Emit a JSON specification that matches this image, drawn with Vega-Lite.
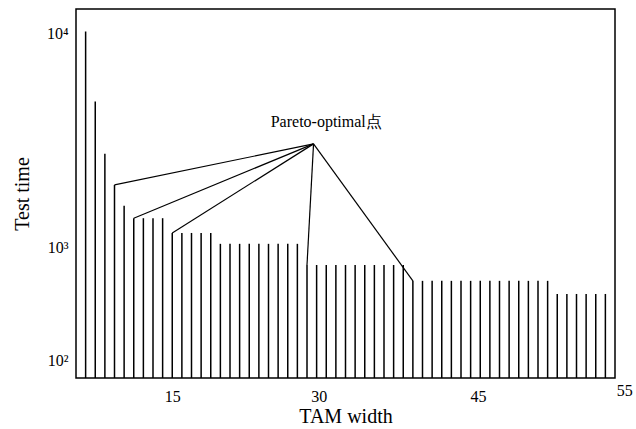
{
  "$schema": "https://vega.github.io/schema/vega-lite/v6.json",
  "autosize": "none",
  "width": 539,
  "height": 369,
  "padding": {"left": 76, "top": 9, "right": 21, "bottom": 51},
  "background": "white",
  "config": {
    "view": {"stroke": "black", "strokeWidth": 1.5},
    "font": "Liberation Serif"
  },
  "datasets": {
    "bars": [
      {"w": 6, "t": 10350}, {"w": 7, "t": 3855}, {"w": 8, "t": 1845}, {"w": 9, "t": 1191}, {"w": 10, "t": 889},
      {"w": 11, "t": 745}, {"w": 12, "t": 745}, {"w": 13, "t": 745}, {"w": 14, "t": 745},
      {"w": 15, "t": 605}, {"w": 16, "t": 605}, {"w": 17, "t": 605}, {"w": 18, "t": 605}, {"w": 19, "t": 605},
      {"w": 20, "t": 519}, {"w": 21, "t": 519}, {"w": 22, "t": 519}, {"w": 23, "t": 519}, {"w": 24, "t": 519},
      {"w": 25, "t": 519}, {"w": 26, "t": 519}, {"w": 27, "t": 519}, {"w": 28, "t": 519},
      {"w": 29, "t": 385}, {"w": 30, "t": 385}, {"w": 31, "t": 385}, {"w": 32, "t": 385}, {"w": 33, "t": 385},
      {"w": 34, "t": 385}, {"w": 35, "t": 385}, {"w": 36, "t": 385}, {"w": 37, "t": 385}, {"w": 38, "t": 385}, {"w": 39, "t": 385},
      {"w": 40, "t": 308}, {"w": 41, "t": 308}, {"w": 42, "t": 308}, {"w": 43, "t": 308}, {"w": 44, "t": 308},
      {"w": 45, "t": 308}, {"w": 46, "t": 308}, {"w": 47, "t": 308}, {"w": 48, "t": 308}, {"w": 49, "t": 308},
      {"w": 50, "t": 308}, {"w": 51, "t": 308}, {"w": 52, "t": 308}, {"w": 53, "t": 308}, {"w": 54, "t": 308},
      {"w": 55, "t": 256}, {"w": 56, "t": 256}, {"w": 57, "t": 256}, {"w": 58, "t": 256}, {"w": 59, "t": 256}, {"w": 60, "t": 256}
    ],
    "pareto": [
      {"seg": "a", "w": 29.68, "t": 2124}, {"seg": "a", "w": 9, "t": 1191},
      {"seg": "b", "w": 29.68, "t": 2124}, {"seg": "b", "w": 11, "t": 745},
      {"seg": "c", "w": 29.68, "t": 2124}, {"seg": "c", "w": 15, "t": 605},
      {"seg": "d", "w": 29.68, "t": 2124}, {"seg": "d", "w": 29, "t": 385},
      {"seg": "e", "w": 29.68, "t": 2124}, {"seg": "e", "w": 40, "t": 308}
    ],
    "note": [
      {"w": 31, "t": 2680, "label": "Pareto-optimal点"}
    ]
  },
  "encoding": {
    "x": {
      "field": "w",
      "type": "quantitative",
      "title": "TAM width",
      "scale": {"domain": [5, 61], "nice": false, "zero": false},
      "axis": {
        "values": [15, 30, 45, 55],
        "domain": false,
        "ticks": false,
        "grid": false,
        "labelFont": "Liberation Serif",
        "labelFontSize": 16,
        "labelColor": "black",
        "labelPadding": {"condition": {"test": "datum.value == 55", "value": 4}, "value": 10},
        "labelOffset": {"condition": [{"test": "datum.value == 45", "value": 17}, {"test": "datum.value == 55", "value": 67}, {"test": "datum.value == 30", "value": 2}], "value": 0},
        "labelOverlap": false,
        "labelFlush": false,
        "titleFont": "Liberation Serif",
        "titleFontSize": 20,
        "titleFontWeight": "normal",
        "titleColor": "black",
        "titlePadding": 2
      }
    },
    "y": {
      "field": "t",
      "type": "quantitative",
      "title": "Test time",
      "scale": {"type": "log", "domain": [78.3, 14220], "nice": false},
      "axis": {
        "values": [100, 1000, 10000],
        "labelExpr": "datum.value == 100 ? '10²' : datum.value == 1000 ? '10³' : '10⁴'",
        "domain": false,
        "ticks": false,
        "grid": false,
        "labelFont": "Liberation Serif",
        "labelFontSize": 16,
        "labelColor": "black",
        "labelPadding": 8,
        "labelOffset": {"condition": {"test": "datum.value == 1000", "value": 50}, "value": 0},
        "labelOverlap": false,
        "labelFlush": false,
        "titleFont": "Liberation Serif",
        "titleFontSize": 20,
        "titleFontWeight": "normal",
        "titleColor": "black",
        "titlePadding": 14
      }
    }
  },
  "layer": [
    {
      "data": {"name": "bars"},
      "mark": {"type": "rule", "color": "black", "strokeWidth": 1.5},
      "encoding": {
        "y2": {"datum": 78.3}
      }
    },
    {
      "data": {"name": "pareto"},
      "mark": {"type": "line", "color": "black", "strokeWidth": 1.2},
      "encoding": {
        "detail": {"field": "seg", "type": "nominal"}
      }
    },
    {
      "data": {"name": "note"},
      "mark": {"type": "text", "font": "Liberation Serif", "fontSize": 16, "color": "black", "align": "center", "baseline": "alphabetic"},
      "encoding": {
        "text": {"field": "label", "type": "nominal"}
      }
    }
  ]
}
